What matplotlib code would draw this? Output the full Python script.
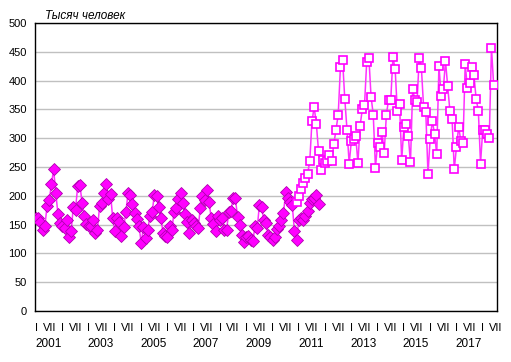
import numpy as np
import matplotlib.pyplot as plt

plt.rcParams['font.family'] = ['Liberation Sans', 'DejaVu Sans']

# ряд 1: январь 2001 - ноябрь 2011 (ромбы)
old_start = 0
old_vals = [161, 162, 155, 141, 147, 182, 193, 220, 246, 204, 168, 152,
            148, 144, 158, 128, 138, 181, 176, 217, 219, 188, 165, 151,
            147, 148, 158, 136, 141, 182, 187, 205, 220, 194, 203, 161,
            139, 161, 155, 131, 145, 172, 204, 202, 186, 170, 160, 148,
            118, 145, 126, 141, 165, 171, 201, 200, 180, 162, 135, 130,
            128, 147, 141, 171, 179, 194, 204, 187, 169, 154, 135, 158,
            153, 147, 144, 178, 199, 193, 210, 189, 161, 151, 138, 165,
            158, 161, 141, 141, 171, 173, 196, 196, 164, 149, 132, 120,
            128, 130, 124, 122, 147, 144, 184, 181, 158, 152, 132, 128,
            124, 128, 142, 147, 158, 170, 206, 196, 189, 184, 139, 123,
            158, 161, 158, 165, 174, 187, 194, 196, 202, 186]

# ряд 2: декабрь 2010 - июнь 2018 (квадраты)
new_start = 119
new_vals = [190, 200, 212, 222, 231, 238, 260, 329, 354, 325, 278, 245,
            262, 257, 261, 271, 260, 290, 315, 341, 423, 435, 368, 315,
            256, 295, 298, 303, 257, 322, 350, 357, 432, 440, 372, 341,
            249, 291, 284, 311, 275, 341, 367, 367, 441, 420, 347, 359,
            262, 320, 325, 304, 258, 385, 367, 362, 440, 421, 354, 345,
            238, 299, 330, 307, 272, 426, 374, 385, 434, 390, 348, 334,
            246, 284, 320, 295, 291, 429, 387, 395, 424, 409, 368, 348,
            256, 314, 314, 308, 301, 457, 392]

years = list(range(2001, 2019))
y_ticks = list(range(0, 501, 50))

magenta = '#FF00FF'

fig = plt.figure(figsize=(5.11, 3.62), dpi=100)
ax = fig.add_axes([0.0685, 0.141, 0.904, 0.7955])

x_old = np.arange(old_start, old_start + len(old_vals))
x_new = np.arange(new_start, new_start + len(new_vals))

ax.plot(x_old, old_vals, color='#FF30FF', lw=1.1, marker='D', ms=6,
        mfc=magenta, mec='#B000B0', mew=0.6, zorder=3)
ax.plot(x_new, new_vals, color='#FF30FF', lw=1.1, marker='s', ms=5.2,
        mfc='white', mec=magenta, mew=1.2, zorder=4)

ax.set_ylim(0, 500)
ax.set_xlim(-0.5, 210.5)
ax.set_yticks(y_ticks)
ax.tick_params(axis='y', length=0, labelsize=8, pad=6)
ax.yaxis.grid(True, color='#C0C0C0', lw=1)
ax.set_axisbelow(True)

pos, labs = [], []
for i, yr in enumerate(years):
    pos += [12 * i, 12 * i + 6]
    labs += ['I', 'VII']
ax.set_xticks(pos)
ax.set_xticklabels(labs)
ax.tick_params(axis='x', length=0, labelsize=8, pad=9)

for i, yr in enumerate(years):
    if yr % 2 == 1:
        ax.text(12 * i + 5.5, -0.115, str(yr), transform=ax.get_xaxis_transform(),
                ha='center', va='center', fontsize=8.5)

for s in ax.spines.values():
    s.set_color('black')
    s.set_linewidth(1)

fig.text(0.088, 0.957, 'Тысяч человек', fontsize=8.5, style='italic',
         ha='left', va='center')

fig.savefig('out.png', dpi=100)
